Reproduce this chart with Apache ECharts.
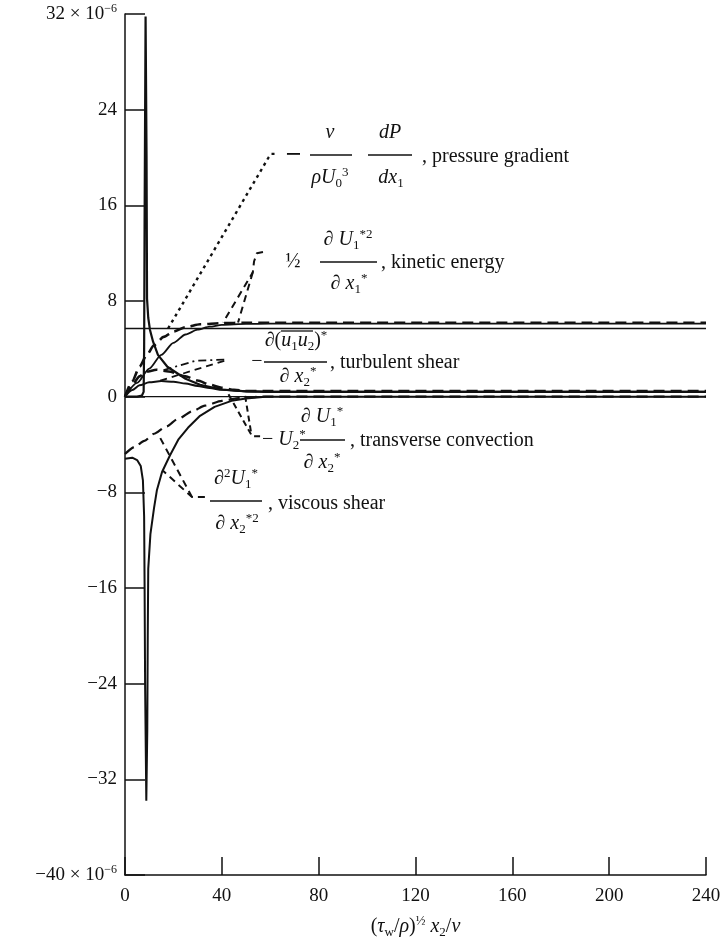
<!DOCTYPE html>
<html>
<head>
<meta charset="utf-8">
<script src="https://cdn.jsdelivr.net/npm/echarts@6/dist/echarts.min.js"></script>
<style>
  html, body { margin: 0; padding: 0; background: #ffffff; }
  #chart { width: 720px; height: 940px; }
</style>
</head>
<body>
<div id="chart"></div>
<script>
// Momentum-balance terms across the wall layer, values in units of 10^-6.

// Axis ranges and tick spacing
const xMin = 0, xMax = 240, xStep = 40;
const yMin = -40, yMax = 32, yStep = 8;

// Pressure-gradient term (constant) and the zero reference
const pressureGradient = [[0, 5.7], [240, 5.7]];
const zeroLine = [[0, 0], [240, 0]];

// Kinetic-energy term: solid and dashed estimates
const kineticSolid = [[0, 0], [5, 1.15], [10, 2.35], [15, 3.5], [20, 4.5], [25, 5.2], [30, 5.6], [35, 5.85], [40, 6.0], [50, 6.08], [60, 6.1], [240, 6.1]];
const kineticDashed = [[0, 0], [3, 1.3], [6, 2.5], [9, 3.5], [12, 4.3], [16, 5.0], [20, 5.45], [25, 5.8], [31, 6.05], [40, 6.15], [50, 6.18], [240, 6.18]];

// Turbulent-shear term: sharp sublayer peak, low hump, dashed estimate
const turbulentSpike = [[0, 0], [5, 0], [7, 0.1], [7.7, 0.4], [7.9, 4], [8.1, 15], [8.5, 31.8], [8.9, 20], [9.1, 8.2], [9.6, 6.6], [10.3, 5.6], [11.6, 4.6], [13.6, 3.5], [17.5, 2.5], [25, 1.5], [31, 1.0], [40, 0.6], [50, 0.45], [60, 0.4], [240, 0.4]];
const turbulentHump = [[0, 0], [3, 0.55], [6, 0.95], [10, 1.2], [15, 1.3], [20, 1.25], [25, 1.1], [30, 0.9], [35, 0.72], [40, 0.58], [50, 0.45], [60, 0.42], [240, 0.42]];
const turbulentDashed = [[0, 0], [3, 1.0], [6, 1.7], [9, 2.1], [13, 2.25], [18, 2.1], [25, 1.7], [30, 1.35], [35, 1.0], [40, 0.75], [45, 0.57], [50, 0.48], [60, 0.46], [240, 0.46]];

// Viscous-shear term: solid with sublayer trough, dashed estimate
const viscousSolid = [[0, -5.2], [3, -5.1], [5, -5.3], [6.5, -5.8], [7.4, -7], [7.9, -10], [8.1, -16], [8.3, -24], [8.8, -33.8], [9.2, -28], [9.4, -20], [9.6, -14.4], [10.5, -11.5], [12, -9.3], [13.2, -7.8], [15.3, -6.3], [18.6, -4.9], [22, -3.6], [26, -2.6], [31, -1.6], [37, -0.85], [44, -0.35], [50, -0.15], [58, 0], [240, 0]];
const viscousDashed = [[0, -4.8], [4, -4.2], [8, -3.7], [12, -3.1], [17, -2.5], [22, -1.85], [28, -1.2], [33, -0.75], [40, -0.35], [48, -0.1], [56, 0], [240, 0]];

// Leader lines joining each term label to its curves
const leaderPressure = [[17.8, 5.7], [59.3, 20.0], [60.5, 20.3], [62, 20.3]];
const leaderPressureTail = [[66.9, 20.3], [72.3, 20.3]];
const leaderKineticA = [[57, 12.1], [54.5, 12.0], [53.3, 11.3], [52.8, 10.4], [40.5, 6.2]];
const leaderKineticB = [[52.8, 10.4], [46.7, 6.2]];
const leaderTurbulentA = [[41, 3.1], [29, 3.0], [15.7, 2.2]];
const leaderTurbulentB = [[41, 3.0], [14.5, 1.34]];
const leaderConvectionA = [[55.8, -3.3], [52.5, -3.3], [42.6, 0.25]];
const leaderConvectionB = [[52, -2.9], [49.6, 0.1]];
const leaderViscousA = [[33, -8.4], [27.7, -8.4], [15.7, -6.2]];
const leaderViscousB = [[27.7, -8.4], [13.6, -3.1]];

const INK = '#111111';
const SERIF = '"Liberation Serif", "DejaVu Serif", serif';

function curve(data, opts) {
  return {
    type: 'line',
    data: data,
    showSymbol: false,
    silent: true,
    smooth: opts.smooth === undefined ? 0.25 : opts.smooth,
    smoothMonotone: 'x',
    lineStyle: { color: INK, width: opts.width || 2, type: opts.dash || 'solid', cap: 'butt' },
    z: opts.z || 2
  };
}

const RICH = {
  r: { fontFamily: SERIF, fontSize: 20, lineHeight: 24, fill: INK, color: INK },
  i: { fontFamily: SERIF, fontSize: 20, fontStyle: 'italic', lineHeight: 24, fill: INK, color: INK },
  sb: { fontFamily: SERIF, fontSize: 13, lineHeight: 10, verticalAlign: 'bottom', fill: INK, color: INK },
  sp: { fontFamily: SERIF, fontSize: 13, lineHeight: 10, verticalAlign: 'top', fill: INK, color: INK }
};

function txt(x, y, text, align) {
  const a = align || 'center';
  return {
    type: 'text', x: x, y: y, silent: true,
    style: {
      text: text, rich: RICH, fill: INK, font: '20px ' + SERIF,
      align: a, textAlign: a, verticalAlign: 'middle', textVerticalAlign: 'middle'
    }
  };
}
function bar(x1, x2, y) {
  return { type: 'line', silent: true, shape: { x1: x1, y1: y, x2: x2, y2: y }, style: { stroke: INK, lineWidth: 1.3 } };
}

const labels = [
  // pressure gradient
  txt(330, 133, '{i|ν}'), bar(310, 352, 155), txt(330, 178, '{i|ρU}{sb|0}{sp|3}'),
  txt(390, 133, '{i|dP}'), bar(368, 412, 155), txt(391, 178, '{i|dx}{sb|1}'),
  txt(422, 157, '{r|, pressure gradient}', 'left'),
  // kinetic energy
  txt(293, 262, '{r|½}'),
  txt(348, 240, '{r|∂ }{i|U}{sb|1}{sp|*2}'), bar(320, 377, 262), txt(349, 284, '{r|∂ }{i|x}{sb|1}{sp|*}'),
  txt(381, 263, '{r|, kinetic energy}', 'left'),
  // turbulent shear
  txt(257, 362, '{r|−}'),
  txt(296, 341, '{r|∂(}{i|u}{sb|1}{i|u}{sb|2}{r|)}{sp|*}'), bar(281, 313, 331),
  bar(264, 327, 362), txt(298, 377, '{r|∂ }{i|x}{sb|2}{sp|*}'),
  txt(330, 363, '{r|, turbulent shear}', 'left'),
  // transverse convection
  txt(262, 440, '{r|− }{i|U}{sb|2}{sp|*}', 'left'),
  txt(322, 417, '{r|∂ }{i|U}{sb|1}{sp|*}'), bar(300, 345, 440), txt(322, 463, '{r|∂ }{i|x}{sb|2}{sp|*}'),
  txt(350, 441, '{r|, transverse convection}', 'left'),
  // viscous shear
  txt(236, 479, '{r|∂}{sp|2}{i|U}{sb|1}{sp|*}'), bar(210, 262, 501), txt(237, 524, '{r|∂ }{i|x}{sb|2}{sp|*2}'),
  txt(268, 504, '{r|, viscous shear}', 'left')
];

const chart = echarts.init(document.getElementById('chart'), null, { renderer: 'canvas' });

chart.setOption({
  animation: false,
  backgroundColor: '#ffffff',
  grid: { left: 125, right: 14, top: 14, bottom: 65, containLabel: false, outerBoundsMode: 'none' },
  xAxis: {
    type: 'value', min: xMin, max: xMax, interval: xStep,
    axisLine: { onZero: false, lineStyle: { color: INK, width: 1.5 } },
    axisTick: { inside: true, length: 18, lineStyle: { color: INK, width: 1.5 } },
    splitLine: { show: false },
    axisLabel: { color: INK, fontFamily: SERIF, fontSize: 19, margin: 12 },
    name: '({i|τ}{sb|w}{r|/}{i|ρ}{r|)}{sp|½} {i|x}{sb|2}{r|/}{i|ν}',
    nameLocation: 'middle', nameGap: 40,
    nameTextStyle: { rich: RICH, color: INK, fontFamily: SERIF, fontSize: 20 }
  },
  yAxis: {
    type: 'value', min: yMin, max: yMax, interval: yStep,
    axisLine: { onZero: false, lineStyle: { color: INK, width: 1.5 } },
    axisTick: { inside: true, length: 20, lineStyle: { color: INK, width: 1.5 } },
    splitLine: { show: false },
    axisLabel: {
      margin: 8,
      formatter: function (v) {
        const s = v < 0 ? '−' + Math.abs(v) : String(v);
        if (v === yMax || v === yMin) return '{n|' + s + ' × 10}{e|−6}';
        return '{n|' + s + '}';
      },
      rich: {
        n: { fontFamily: SERIF, fontSize: 19, lineHeight: 22, color: INK },
        e: { fontFamily: SERIF, fontSize: 12, lineHeight: 10, verticalAlign: 'top', color: INK }
      }
    }
  },
  series: [
    curve(pressureGradient, { width: 1.3, smooth: false }),
    curve(zeroLine, { width: 1.3, smooth: false }),
    curve(kineticSolid, { width: 1.8 }),
    curve(kineticDashed, { width: 2.6, dash: [11, 6] }),
    curve(turbulentSpike, { width: 2.2, smooth: false }),
    curve(turbulentHump, { width: 2 }),
    curve(turbulentDashed, { width: 2.6, dash: [11, 6] }),
    curve(viscousSolid, { width: 2, smooth: false }),
    curve(viscousDashed, { width: 2.2, dash: [11, 6] }),
    curve(leaderPressure, { width: 2.4, dash: [3, 4], smooth: false }),
    curve(leaderPressureTail, { width: 1.8, smooth: false }),
    curve(leaderKineticA, { width: 2, dash: [7, 5], smooth: false }),
    curve(leaderKineticB, { width: 2, dash: [7, 5], smooth: false }),
    curve(leaderTurbulentA, { width: 1.8, dash: [8, 4, 2, 4], smooth: false }),
    curve(leaderTurbulentB, { width: 1.8, dash: [7, 5], smooth: false }),
    curve(leaderConvectionA, { width: 2, dash: [6, 4], smooth: false }),
    curve(leaderConvectionB, { width: 2, dash: [6, 4], smooth: false }),
    curve(leaderViscousA, { width: 2, dash: [7, 5], smooth: false }),
    curve(leaderViscousB, { width: 2, dash: [7, 5], smooth: false })
  ],
  graphic: labels
});
</script>
</body>
</html>
